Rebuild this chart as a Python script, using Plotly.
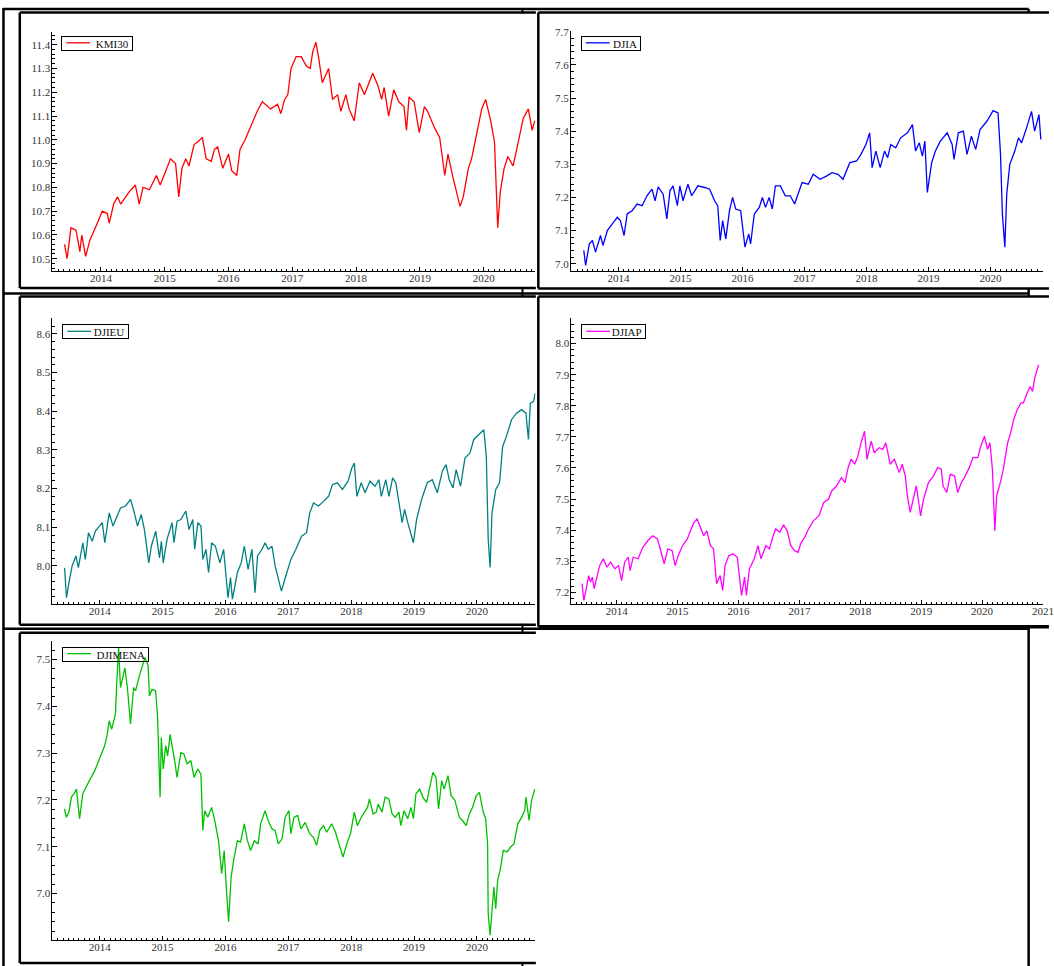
import plotly.graph_objects as go

W, H = 1054, 966

# ---------------- series: decimal year / log index level ----------------
kmi30_t = [2013.43, 2013.47, 2013.53, 2013.61, 2013.67, 2013.70, 2013.76, 2013.83, 2013.96, 2014.02,
           2014.10, 2014.13, 2014.20, 2014.26, 2014.31, 2014.44, 2014.54, 2014.60, 2014.66, 2014.76,
           2014.87, 2014.93, 2015.09, 2015.17, 2015.22, 2015.27, 2015.33, 2015.38, 2015.46, 2015.51,
           2015.59, 2015.65, 2015.73, 2015.78, 2015.83, 2015.91, 2016.00, 2016.05, 2016.13, 2016.18,
           2016.26, 2016.34, 2016.45, 2016.53, 2016.66, 2016.77, 2016.82, 2016.88, 2016.93, 2016.98,
           2017.06, 2017.14, 2017.22, 2017.28, 2017.32, 2017.37, 2017.41, 2017.47, 2017.57, 2017.63,
           2017.71, 2017.76, 2017.84, 2017.89, 2017.97, 2018.05, 2018.13, 2018.26, 2018.34, 2018.40,
           2018.44, 2018.51, 2018.59, 2018.67, 2018.75, 2018.79, 2018.83, 2018.91, 2018.99, 2019.07,
           2019.12, 2019.23, 2019.31, 2019.39, 2019.44, 2019.52, 2019.63, 2019.68, 2019.76, 2019.81,
           2019.89, 2019.97, 2020.03, 2020.11, 2020.17, 2020.22, 2020.26, 2020.32, 2020.38, 2020.46,
           2020.51, 2020.57, 2020.62, 2020.70, 2020.76, 2020.80]
kmi30_v = [10.56, 10.50, 10.63, 10.62, 10.53, 10.60, 10.51, 10.58, 10.66, 10.70,
           10.69, 10.65, 10.73, 10.76, 10.73, 10.78, 10.81, 10.73, 10.80, 10.79,
           10.85, 10.81, 10.92, 10.90, 10.76, 10.88, 10.92, 10.89, 10.98, 10.99,
           11.01, 10.92, 10.91, 10.96, 10.97, 10.88, 10.94, 10.87, 10.85, 10.96,
           11.00, 11.05, 11.12, 11.16, 11.13, 11.15, 11.11, 11.17, 11.19, 11.30,
           11.35, 11.35, 11.31, 11.30, 11.37, 11.41, 11.35, 11.24, 11.30, 11.17,
           11.19, 11.12, 11.19, 11.13, 11.08, 11.24, 11.19, 11.28, 11.23, 11.17,
           11.22, 11.10, 11.21, 11.16, 11.14, 11.04, 11.18, 11.16, 11.03, 11.14,
           11.12, 11.05, 11.01, 10.85, 10.94, 10.84, 10.72, 10.76, 10.88, 10.92,
           11.03, 11.13, 11.17, 11.08, 10.99, 10.63, 10.78, 10.88, 10.93, 10.89,
           10.95, 11.03, 11.09, 11.13, 11.04, 11.08]

djia_t = [2013.44, 2013.47, 2013.53, 2013.58, 2013.63, 2013.71, 2013.75, 2013.82, 2013.90, 2013.98,
          2014.03, 2014.09, 2014.14, 2014.22, 2014.30, 2014.38, 2014.46, 2014.54, 2014.59, 2014.64,
          2014.72, 2014.78, 2014.83, 2014.88, 2014.95, 2014.99, 2015.04, 2015.12, 2015.18, 2015.28,
          2015.39, 2015.47, 2015.55, 2015.60, 2015.64, 2015.68, 2015.73, 2015.79, 2015.84, 2015.89,
          2015.97, 2016.04, 2016.10, 2016.13, 2016.19, 2016.27, 2016.32, 2016.37, 2016.43, 2016.48,
          2016.53, 2016.61, 2016.69, 2016.77, 2016.84, 2016.90, 2016.96, 2017.06, 2017.14, 2017.25,
          2017.36, 2017.44, 2017.54, 2017.62, 2017.73, 2017.84, 2017.91, 2017.99, 2018.05, 2018.09,
          2018.15, 2018.22, 2018.29, 2018.34, 2018.39, 2018.47, 2018.55, 2018.66, 2018.74, 2018.79,
          2018.85, 2018.90, 2018.94, 2018.98, 2019.05, 2019.11, 2019.19, 2019.30, 2019.38, 2019.41,
          2019.48, 2019.56, 2019.62, 2019.69, 2019.76, 2019.83, 2019.94, 2020.04, 2020.12, 2020.16,
          2020.19, 2020.23, 2020.26, 2020.31, 2020.39, 2020.45, 2020.50, 2020.58, 2020.66, 2020.71,
          2020.78, 2020.81]
djia_v = [7.040, 6.995, 7.060, 7.070, 7.035, 7.085, 7.055, 7.100, 7.120, 7.140,
          7.130, 7.085, 7.150, 7.160, 7.180, 7.175, 7.205, 7.225, 7.190, 7.232,
          7.210, 7.135, 7.220, 7.235, 7.175, 7.235, 7.190, 7.240, 7.205, 7.235,
          7.230, 7.225, 7.190, 7.175, 7.070, 7.130, 7.075, 7.160, 7.200, 7.165,
          7.160, 7.050, 7.090, 7.060, 7.150, 7.170, 7.200, 7.170, 7.200, 7.165,
          7.235, 7.235, 7.205, 7.205, 7.180, 7.215, 7.245, 7.240, 7.270, 7.255,
          7.265, 7.275, 7.270, 7.255, 7.305, 7.310, 7.330, 7.360, 7.395, 7.290,
          7.340, 7.290, 7.340, 7.320, 7.360, 7.350, 7.380, 7.395, 7.420, 7.340,
          7.365, 7.325, 7.370, 7.215, 7.305, 7.340, 7.370, 7.395, 7.360, 7.315,
          7.395, 7.400, 7.330, 7.385, 7.345, 7.405, 7.430, 7.462, 7.455, 7.330,
          7.150, 7.050, 7.210, 7.300, 7.340, 7.380, 7.365, 7.410, 7.460, 7.400,
          7.450, 7.375]

djieu_t = [2013.44, 2013.47, 2013.51, 2013.56, 2013.62, 2013.66, 2013.73, 2013.77, 2013.82, 2013.88,
           2013.93, 2014.00, 2014.04, 2014.08, 2014.15, 2014.21, 2014.27, 2014.33, 2014.41, 2014.49,
           2014.55, 2014.60, 2014.66, 2014.71, 2014.78, 2014.82, 2014.89, 2014.95, 2014.98, 2015.01,
           2015.07, 2015.15, 2015.18, 2015.23, 2015.29, 2015.37, 2015.42, 2015.48, 2015.51, 2015.56,
           2015.61, 2015.64, 2015.69, 2015.73, 2015.78, 2015.84, 2015.91, 2015.97, 2016.04, 2016.08,
           2016.11, 2016.19, 2016.25, 2016.30, 2016.36, 2016.42, 2016.47, 2016.51, 2016.58, 2016.63,
           2016.68, 2016.74, 2016.79, 2016.85, 2016.89, 2016.96, 2017.04, 2017.12, 2017.21, 2017.29,
           2017.34, 2017.40, 2017.48, 2017.56, 2017.64, 2017.70, 2017.78, 2017.86, 2017.95, 2018.01,
           2018.05, 2018.09, 2018.16, 2018.22, 2018.30, 2018.38, 2018.44, 2018.48, 2018.55, 2018.60,
           2018.66, 2018.71, 2018.77, 2018.81, 2018.85, 2018.90, 2018.99, 2019.04, 2019.12, 2019.21,
           2019.29, 2019.37, 2019.45, 2019.51, 2019.56, 2019.62, 2019.67, 2019.74, 2019.81, 2019.89,
           2019.95, 2020.03, 2020.11, 2020.15, 2020.18, 2020.21, 2020.24, 2020.30, 2020.36, 2020.41,
           2020.47, 2020.55, 2020.63, 2020.71, 2020.78, 2020.82, 2020.85, 2020.90, 2020.93]
djieu_v = [7.995, 7.918, 7.957, 8.000, 8.026, 7.996, 8.060, 8.017, 8.086, 8.064,
           8.090, 8.103, 8.112, 8.060, 8.137, 8.103, 8.129, 8.150, 8.155, 8.172,
           8.137, 8.103, 8.133, 8.094, 8.008, 8.051, 8.090, 8.021, 8.064, 8.008,
           8.069, 8.112, 8.060, 8.116, 8.120, 8.142, 8.094, 8.120, 8.043, 8.112,
           8.103, 8.017, 8.043, 7.983, 8.060, 8.051, 8.008, 8.043, 7.918, 7.970,
           7.914, 7.983, 8.008, 8.051, 7.991, 8.043, 7.931, 8.026, 8.043, 8.060,
           8.043, 8.051, 8.000, 7.965, 7.935, 7.974, 8.017, 8.043, 8.077, 8.086,
           8.137, 8.163, 8.155, 8.167, 8.180, 8.210, 8.215, 8.198, 8.219, 8.253,
           8.266, 8.180, 8.215, 8.189, 8.219, 8.206, 8.223, 8.180, 8.223, 8.180,
           8.228, 8.215, 8.146, 8.112, 8.146, 8.112, 8.060, 8.120, 8.172, 8.215,
           8.223, 8.189, 8.245, 8.262, 8.223, 8.202, 8.249, 8.206, 8.279, 8.292,
           8.327, 8.339, 8.352, 8.284, 8.069, 7.996, 8.137, 8.198, 8.215, 8.309,
           8.335, 8.378, 8.395, 8.404, 8.395, 8.327, 8.421, 8.425, 8.447]

djiap_t = [2013.43, 2013.46, 2013.50, 2013.54, 2013.57, 2013.60, 2013.63, 2013.68, 2013.72, 2013.78,
           2013.84, 2013.90, 2013.97, 2014.03, 2014.08, 2014.13, 2014.19, 2014.22, 2014.27, 2014.35,
           2014.43, 2014.51, 2014.59, 2014.67, 2014.73, 2014.78, 2014.84, 2014.91, 2014.96, 2015.01,
           2015.08, 2015.16, 2015.21, 2015.27, 2015.32, 2015.37, 2015.43, 2015.48, 2015.54, 2015.59,
           2015.64, 2015.70, 2015.74, 2015.78, 2015.84, 2015.91, 2015.98, 2016.05, 2016.10, 2016.13,
           2016.18, 2016.26, 2016.32, 2016.37, 2016.45, 2016.51, 2016.56, 2016.61, 2016.68, 2016.74,
           2016.80, 2016.86, 2016.92, 2016.98, 2017.02, 2017.10, 2017.15, 2017.23, 2017.32, 2017.40,
           2017.48, 2017.53, 2017.61, 2017.69, 2017.75, 2017.80, 2017.85, 2017.91, 2017.96, 2018.02,
           2018.07, 2018.11, 2018.18, 2018.23, 2018.31, 2018.37, 2018.42, 2018.49, 2018.56, 2018.64,
           2018.69, 2018.74, 2018.77, 2018.82, 2018.88, 2018.92, 2018.96, 2018.99, 2019.04, 2019.12,
           2019.20, 2019.27, 2019.33, 2019.36, 2019.42, 2019.48, 2019.55, 2019.60, 2019.66, 2019.71,
           2019.79, 2019.85, 2019.93, 2019.98, 2020.04, 2020.09, 2020.13, 2020.17, 2020.21, 2020.24,
           2020.30, 2020.35, 2020.42, 2020.47, 2020.52, 2020.58, 2020.64, 2020.68, 2020.74, 2020.79,
           2020.83, 2020.87, 2020.93]
djiap_v = [7.228, 7.174, 7.212, 7.254, 7.233, 7.249, 7.212, 7.254, 7.286, 7.308,
           7.281, 7.297, 7.276, 7.286, 7.238, 7.297, 7.313, 7.270, 7.313, 7.308,
           7.345, 7.366, 7.382, 7.372, 7.329, 7.292, 7.340, 7.334, 7.286, 7.318,
           7.350, 7.372, 7.398, 7.425, 7.436, 7.409, 7.382, 7.398, 7.350, 7.340,
           7.228, 7.254, 7.206, 7.286, 7.318, 7.324, 7.313, 7.190, 7.249, 7.190,
           7.276, 7.308, 7.350, 7.308, 7.350, 7.340, 7.377, 7.404, 7.393, 7.417,
           7.398, 7.350, 7.334, 7.329, 7.356, 7.382, 7.404, 7.430, 7.446, 7.489,
           7.500, 7.526, 7.542, 7.569, 7.553, 7.601, 7.628, 7.612, 7.638, 7.686,
           7.718, 7.628, 7.686, 7.649, 7.665, 7.660, 7.681, 7.612, 7.628, 7.585,
           7.612, 7.574, 7.516, 7.457, 7.510, 7.542, 7.489, 7.446, 7.500, 7.553,
           7.574, 7.601, 7.596, 7.542, 7.521, 7.580, 7.574, 7.521, 7.553, 7.569,
           7.601, 7.633, 7.633, 7.670, 7.702, 7.660, 7.681, 7.596, 7.398, 7.510,
           7.553, 7.596, 7.681, 7.713, 7.756, 7.788, 7.809, 7.809, 7.841, 7.862,
           7.846, 7.894, 7.932]

djimena_t = [2013.44, 2013.47, 2013.51, 2013.55, 2013.59, 2013.63, 2013.66, 2013.68, 2013.73, 2013.78,
             2013.85, 2013.92, 2013.97, 2014.03, 2014.08, 2014.12, 2014.15, 2014.19, 2014.25, 2014.27,
             2014.30, 2014.33, 2014.37, 2014.40, 2014.44, 2014.46, 2014.49, 2014.54, 2014.57, 2014.63,
             2014.68, 2014.72, 2014.77, 2014.79, 2014.83, 2014.89, 2014.92, 2014.94, 2014.96, 2014.98,
             2015.01, 2015.05, 2015.08, 2015.12, 2015.16, 2015.20, 2015.23, 2015.29, 2015.34, 2015.39,
             2015.45, 2015.50, 2015.56, 2015.61, 2015.64, 2015.67, 2015.72, 2015.78, 2015.83, 2015.89,
             2015.94, 2015.98, 2016.02, 2016.05, 2016.09, 2016.13, 2016.19, 2016.24, 2016.30, 2016.35,
             2016.40, 2016.46, 2016.52, 2016.56, 2016.63, 2016.68, 2016.74, 2016.79, 2016.84, 2016.90,
             2016.95, 2017.01, 2017.04, 2017.09, 2017.15, 2017.20, 2017.27, 2017.34, 2017.40, 2017.45,
             2017.50, 2017.56, 2017.61, 2017.69, 2017.75, 2017.80, 2017.87, 2017.94, 2017.99, 2018.05,
             2018.10, 2018.16, 2018.21, 2018.26, 2018.29, 2018.35, 2018.40, 2018.43, 2018.49, 2018.54,
             2018.60, 2018.65, 2018.70, 2018.76, 2018.79, 2018.84, 2018.90, 2018.95, 2018.99, 2019.03,
             2019.09, 2019.14, 2019.20, 2019.25, 2019.30, 2019.35, 2019.39, 2019.44, 2019.48, 2019.54,
             2019.59, 2019.65, 2019.72, 2019.77, 2019.83, 2019.88, 2019.93, 2019.99, 2020.04, 2020.10,
             2020.14, 2020.17, 2020.18, 2020.21, 2020.24, 2020.27, 2020.30, 2020.33, 2020.37, 2020.42,
             2020.48, 2020.54, 2020.59, 2020.65, 2020.70, 2020.76, 2020.78, 2020.83, 2020.87, 2020.92]
djimena_v = [7.181, 7.163, 7.174, 7.206, 7.213, 7.223, 7.184, 7.160, 7.213, 7.227,
             7.245, 7.262, 7.280, 7.298, 7.316, 7.340, 7.369, 7.351, 7.383, 7.447,
             7.525, 7.440, 7.465, 7.482, 7.440, 7.404, 7.362, 7.440, 7.433, 7.465,
             7.489, 7.504, 7.486, 7.422, 7.436, 7.433, 7.376, 7.284, 7.206, 7.333,
             7.266, 7.316, 7.294, 7.340, 7.312, 7.277, 7.248, 7.301, 7.298, 7.277,
             7.284, 7.248, 7.266, 7.255, 7.135, 7.177, 7.163, 7.184, 7.156, 7.113,
             7.043, 7.092, 7.000, 6.940, 7.035, 7.071, 7.113, 7.110, 7.149, 7.113,
             7.092, 7.113, 7.106, 7.149, 7.177, 7.156, 7.138, 7.135, 7.106, 7.117,
             7.163, 7.177, 7.128, 7.163, 7.167, 7.138, 7.152, 7.128, 7.120, 7.103,
             7.135, 7.145, 7.131, 7.149, 7.131, 7.110, 7.078, 7.110, 7.128, 7.174,
             7.145, 7.163, 7.174, 7.184, 7.202, 7.170, 7.174, 7.191, 7.174, 7.206,
             7.202, 7.170, 7.163, 7.174, 7.145, 7.177, 7.160, 7.184, 7.160, 7.213,
             7.223, 7.206, 7.195, 7.230, 7.259, 7.248, 7.181, 7.241, 7.223, 7.252,
             7.209, 7.199, 7.163, 7.156, 7.145, 7.170, 7.184, 7.209, 7.216, 7.174,
             7.160, 7.106, 6.957, 6.911, 6.957, 7.014, 6.968, 7.028, 7.050, 7.092,
             7.089, 7.100, 7.106, 7.149, 7.160, 7.177, 7.206, 7.156, 7.199, 7.223]

for _t, _v in [(kmi30_t, kmi30_v), (djia_t, djia_v), (djieu_t, djieu_v),
               (djiap_t, djiap_v), (djimena_t, djimena_v)]:
    assert len(_t) == len(_v), (len(_t), len(_v))

SERIF = "Liberation Serif, Times New Roman, serif"


def fx(p):
    return p / W


def fy(p):
    return 1 - p / H


# panel layout in page pixels: plot box (left, right, top, bottom), axis ranges,
# legend box (left, top, width)
panels = [
    dict(name="KMI30", color="#ff0000", t=kmi30_t, v=kmi30_v,
         box=(53, 541, 27, 267), xr=(2013.24, 2020.81), yr=(10.45, 11.454),
         leg=(62, 31, 72)),
    dict(name="DJIA", color="#0000ff", t=djia_t, v=djia_v,
         box=(577, 1054, 26, 267), xr=(2013.234, 2020.845), yr=(6.979, 7.703),
         leg=(587, 31, 60)),
    dict(name="DJIEU", color="#008080", t=djieu_t, v=djieu_v,
         box=(53, 541, 315, 602), xr=(2013.247, 2020.93), yr=(7.902, 8.640),
         leg=(63, 321, 67)),
    dict(name="DJIAP", color="#ff00ff", t=djiap_t, v=djiap_v,
         box=(577.5, 1054, 315, 602), xr=(2013.257, 2021.001), yr=(7.163, 8.081),
         leg=(587.5, 321, 65)),
    dict(name="DJIMENA", color="#00c000", t=djimena_t, v=djimena_v,
         box=(53, 541, 639, 940), xr=(2013.248, 2020.93), yr=(6.9006, 7.540),
         leg=(63, 645, 87)),
]

fig = go.Figure()
layout = {}
annotations = []
shapes = []

tickfont = dict(family=SERIF, size=11, color="#333333")


def seg(xa, ya, xb, yb, w=2.5, color="black", layer="below"):
    shapes.append(dict(type="line", xref="paper", yref="paper",
                       x0=fx(xa), y0=fy(ya), x1=fx(xb), y1=fy(yb),
                       line=dict(color=color, width=w), layer=layer))


def white_box(xa, ya, xb, yb):
    shapes.append(dict(type="rect", xref="paper", yref="paper",
                       x0=fx(xa), y0=fy(ya), x1=fx(xb), y1=fy(yb),
                       fillcolor="white", line=dict(width=0), layer="below"))


# ---------------- window frames ----------------
# outer window
seg(3.5, 3, 3.5, 970)
seg(3, 4, 1039.5, 4)
seg(1039.5, 4, 1039.5, 970)
seg(3, 290, 1039.5, 290)
seg(3, 627, 1039.5, 627)

# panel windows (left column clipped at the right, right column runs off the page)
win = [(20, 7.5, 541.5, 284.5), (544, 7.5, 1060, 285),
       (20, 293, 541.5, 623), (544, 293, 1060, 625),
       (20, 631, 541.5, 963)]
for (a, b, c, d) in win:
    white_box(a, b, c, d)
for (a, b, c, d) in win:
    seg(a, b, a, d)
    seg(a, b, c, b)
    seg(a, d, c, d, w=3.5 if (a, b) == (544, 293) else 2.5)

# column divider marks
for (ya, yb) in [(3, 8), (284, 293), (622, 632), (962, 967)]:
    seg(528, ya, 528, yb, w=2)

# ---------------- panels ----------------
for i, p in enumerate(panels, start=1):
    sfx = "" if i == 1 else str(i)
    fig.add_trace(go.Scatter(
        x=p["t"], y=p["v"], mode="lines", name=p["name"],
        line=dict(color=p["color"], width=1.3),
        xaxis="x" + sfx, yaxis="y" + sfx, showlegend=False,
    ))
    x0, x1, y0, y1 = p["box"]
    layout["xaxis" + sfx] = dict(
        domain=[fx(x0), fx(x1)], anchor="y" + sfx, range=list(p["xr"]),
        showline=True, linecolor="black", linewidth=1,
        ticks="inside", ticklen=4, tickwidth=1, tickcolor="black",
        tick0=2014, dtick=1, tickformat="d", tickfont=tickfont,
        ticklabeloverflow="allow", ticklabelstandoff=-3,
        minor=dict(ticks="inside", ticklen=2, tickwidth=1, tickcolor="black",
                   tick0=2014, dtick=1 / 12, showgrid=False),
        showgrid=False, zeroline=False,
    )
    layout["yaxis" + sfx] = dict(
        domain=[fy(y1), fy(y0)], anchor="x" + sfx, range=list(p["yr"]),
        showline=True, linecolor="black", linewidth=1,
        ticks="inside", ticklen=5, tickwidth=1, tickcolor="black",
        tick0=0, dtick=0.1, tickformat=".1f", tickfont=tickfont,
        ticklabelstandoff=-1,
        minor=dict(ticks="inside", ticklen=3, tickwidth=1, tickcolor="black",
                   tick0=0, dtick=0.02, showgrid=False),
        showgrid=False, zeroline=False,
    )

    # boxed key: frame + label as an annotation, colour sample as a short line
    lx, ly, lw = p["leg"]
    annotations.append(dict(
        xref="paper", yref="paper", x=fx(lx), y=fy(ly),
        xanchor="left", yanchor="top", showarrow=False, align="right",
        width=lw - 4, height=11,
        text=p["name"] + " ",
        font=dict(family=SERIF, size=11, color="#111111"),
        bgcolor="rgba(0,0,0,0)", bordercolor="black", borderwidth=1, borderpad=1,
    ))
    seg(lx + 5, ly + 7, lx + 29, ly + 7, w=1.3, color=p["color"], layer="above")

layout.update(
    width=W, height=H,
    margin=dict(l=0, r=0, t=0, b=0),
    paper_bgcolor="white", plot_bgcolor="rgba(0,0,0,0)",
    showlegend=False,
    shapes=shapes, annotations=annotations,
    font=dict(family=SERIF),
)
fig.update_layout(**layout)

fig.write_html("out.html", config={"displayModeBar": False})
